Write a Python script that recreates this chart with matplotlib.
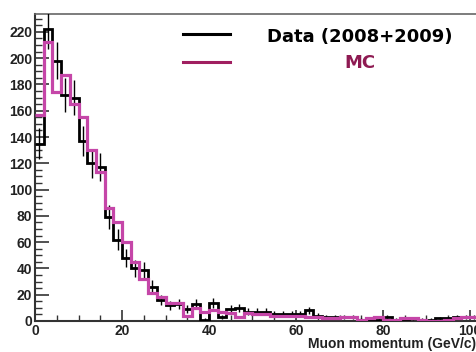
import matplotlib
matplotlib.use("Agg")
from matplotlib import pyplot as plt
from matplotlib.lines import Line2D
from matplotlib.ticker import MultipleLocator
import numpy as np

# bin edges in GeV/c (2 GeV bins)
edges = np.arange(0, 104, 2)

data_counts = [135, 222, 198, 172, 170, 137, 120, 117, 79, 62,
               48, 40, 39, 26, 16, 12, 13, 9, 13, 1,
               14, 3, 9, 10, 7, 7, 7, 5, 5, 5,
               5, 8, 4, 3, 3, 3, 3, 1, 1, 1,
               3, 1, 1, 2, 1, 1, 2, 2, 3, 3, 3]

mc_counts = [157, 212, 174, 187, 165, 155, 130, 113, 86, 75,
             60, 45, 32, 21, 18, 14, 14, 4, 10, 7,
             8, 7, 6, 3, 6, 5, 5, 4, 4, 4,
             4, 3, 3, 2, 2, 3, 3, 1, 2, 3,
             1, 1, 2, 2, 1, 0, 0, 1, 2, 3, 3]

yticks = list(range(0, 221, 20))
xticks = [0, 20, 40, 60, 80, 100]

mc_col = '#c546a8'
leg_mc_col = '#a01f60'
mc_txt_col = '#8e1a52'

fig = plt.figure(figsize=(4.76, 3.52), dpi=100)
ax = fig.add_axes([35/476, 31/352, 1 - 35/476, (321-14)/352])

data = np.array(data_counts, dtype=float)
mc = np.array(mc_counts, dtype=float)
centers = 0.5 * (edges[:-1] + edges[1:])

ax.stairs(data, edges, color='black', lw=2.0, baseline=None, zorder=3)
ax.errorbar(centers, data, yerr=np.sqrt(data), fmt='none', ecolor='black',
            elinewidth=1.0, capsize=0, zorder=3)
ax.stairs(mc, edges, color=mc_col, lw=2.3, baseline=None, zorder=4)

ax.set_xlim(0, (476 - 35) / 4.35)
ax.set_ylim(0, 233.6)
ax.set_xticks(xticks)
ax.set_yticks(yticks)
ax.xaxis.set_minor_locator(MultipleLocator(5))
ax.yaxis.set_minor_locator(MultipleLocator(5))
ax.tick_params(which='both', direction='in', top=False, right=False, colors='#333333')
ax.tick_params(which='major', length=10, width=1.2, labelsize=10, pad=2)
ax.tick_params(which='minor', length=5, width=1.0)
ax.tick_params(axis='x', which='major', length=8)
ax.tick_params(axis='x', which='minor', length=4)
for lab in ax.get_xticklabels() + ax.get_yticklabels():
    lab.set_fontweight('bold')
    lab.set_fontfamily('Liberation Sans')
    lab.set_color('#222222')
ax.spines['right'].set_visible(False)
for s in ['left', 'bottom']:
    ax.spines[s].set_color('#333333')
    ax.spines[s].set_linewidth(1.5)
ax.spines['top'].set_color('#666666')
ax.spines['top'].set_linewidth(1.2)

fig.text(476/476, 1 - 344/352, 'Muon momentum (GeV/c)', ha='right', va='center',
         fontsize=10, fontweight='bold', family='Liberation Sans', color='#222222')

# legend drawn by hand
fig.add_artist(Line2D([183/476, 230/476], [1 - 34/352] * 2, color='black', lw=2.2))
fig.add_artist(Line2D([183/476, 230/476], [1 - 62/352] * 2, color=leg_mc_col, lw=2.2))
fig.text(360/476, 1 - 37/352, 'Data (2008+2009)', ha='center', va='center',
         fontsize=13, fontweight='bold', family='DejaVu Sans', color='black')
fig.text(360/476, 1 - 63/352, 'MC', ha='center', va='center',
         fontsize=13, fontweight='bold', family='DejaVu Sans', color=mc_txt_col)

fig.savefig('out.png', dpi=100)
